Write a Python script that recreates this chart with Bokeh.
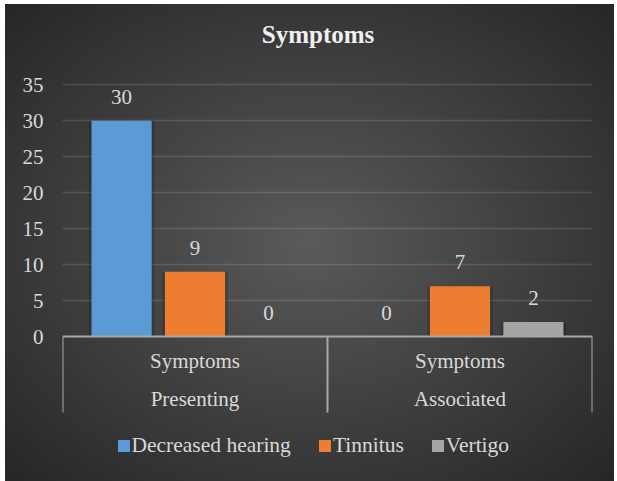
from bokeh.plotting import figure
from bokeh.models import (FactorRange, Range1d, FixedTicker, Span, Legend,
                          LegendItem, ColumnDataSource, Label)
from bokeh.transform import dodge
from bokeh.embed import file_html
from bokeh.resources import INLINE
from bokeh.core.properties import value

# ---- data ----
title_text = "Symptoms"
groups = ["Presenting", "Associated"]
group_prefix = ["Symptoms", "Symptoms"]
series = ["Decreased hearing", "Tinnitus", "Vertigo"]
decreased_hearing = [30, 0]
tinnitus = [9, 7]
vertigo = [0, 2]
y_ticks = [0, 5, 10, 15, 20, 25, 30, 35]

# ---- style ----
FONT = "Liberation Serif"
TXT = "#d9d9d9"
colors = ["#5b9bd5", "#ed7d31", "#a5a5a5"]
offsets = [-0.277, 0.0, 0.277]
BAR_W = 0.227
PX_PER_UNIT = 7.19
Y_BOTTOM = -(481 - 336) / PX_PER_UNIT
Y_TOP = 336 / PX_PER_UNIT
DIV_BOTTOM = -(412 - 336) / PX_PER_UNIT

source = ColumnDataSource(dict(
    groups=groups, prefix=group_prefix,
    s0=decreased_hearing, s1=tinnitus, s2=vertigo,
    l0=[str(v) for v in decreased_hearing],
    l1=[str(v) for v in tinnitus],
    l2=[str(v) for v in vertigo],
))

p = figure(width=617, height=481,
           x_range=FactorRange(factors=groups, range_padding=0),
           y_range=Range1d(Y_BOTTOM, Y_TOP),
           output_backend="svg", toolbar_location=None,
           x_axis_location=None,
           min_border_left=62, min_border_right=25,
           min_border_top=0, min_border_bottom=0)

p.background_fill_color = None
p.border_fill_color = None
p.outline_line_color = None
p.styles = {"background": "radial-gradient(ellipse farthest-corner at 50% 50%, "
                          "#5a5a5a 0%, #262626 100%) 5px 4px / 609px 477px no-repeat, #ffffff"}

# y axis
ax = p.yaxis[0]
ax.ticker = FixedTicker(ticks=y_ticks)
ax.axis_line_color = None
ax.major_tick_line_color = None
ax.minor_tick_line_color = None
ax.major_tick_in = 0
ax.major_tick_out = 0
ax.major_label_standoff = 19
ax.major_label_text_font = FONT
ax.major_label_text_font_size = "21px"
ax.major_label_text_color = TXT

p.xgrid.grid_line_color = None
p.ygrid.ticker = FixedTicker(ticks=y_ticks[1:])
p.ygrid.grid_line_color = "#ffffff"
p.ygrid.grid_line_alpha = 0.13
p.ygrid.grid_line_width = 1.5

# bars
renderers = []
for i, col in enumerate(["s0", "s1", "s2"]):
    p.vbar(x=dodge("groups", offsets[i], range=p.x_range), top=col,
           width=BAR_W + 0.02, source=source, fill_color="#000000",
           fill_alpha=0.18, line_color=None)
    r = p.vbar(x=dodge("groups", offsets[i], range=p.x_range), top=col,
               width=BAR_W, source=source, fill_color=colors[i], line_color=None)
    renderers.append(r)
    p.text(x=dodge("groups", offsets[i], range=p.x_range), y=col,
           text="l%d" % i, source=source, text_align="center",
           text_baseline="alphabetic", y_offset=-24,
           text_font=value(FONT), text_font_size=value("21px"),
           text_color=TXT)

# axis line and category dividers
p.add_layout(Span(location=0, dimension="width", line_color="#a8a8a8", line_width=2))
bounds = [(g, -0.5) for g in groups] + [(groups[-1], 0.5)]
p.segment(x0=bounds, y0=[0] * len(bounds), x1=bounds, y1=[DIV_BOTTOM] * len(bounds),
          line_color="#a8a8a8", line_width=2)

# category labels (two rows)
p.text(x="groups", y=0, text="prefix", source=source, text_align="center",
       text_baseline="alphabetic", y_offset=24,
       text_font=value(FONT), text_font_size=value("21px"), text_color=TXT)
p.text(x="groups", y=0, text="groups", source=source, text_align="center",
       text_baseline="alphabetic", y_offset=62,
       text_font=value(FONT), text_font_size=value("21px"), text_color=TXT)

# title
p.add_layout(Label(x=255.5, y=481 - 34, x_units="screen", y_units="screen", text=title_text,
                   text_align="center", text_baseline="alphabetic",
                   text_font=FONT, text_font_size="25px", text_font_style="bold",
                   text_color="#f0f0f0"))

# legend
legend = Legend(items=[LegendItem(label=s, renderers=[r]) for s, r in zip(series, renderers)],
                location=(53.5, 23), orientation="horizontal",
                glyph_width=15, glyph_height=15, label_standoff=1, spacing=26,
                label_text_font=FONT, label_text_font_size="21.5px",
                label_text_color=TXT, padding=0, margin=0,
                background_fill_alpha=0, border_line_alpha=0)
p.add_layout(legend)

open("out.html", "w").write(file_html(p, INLINE))
